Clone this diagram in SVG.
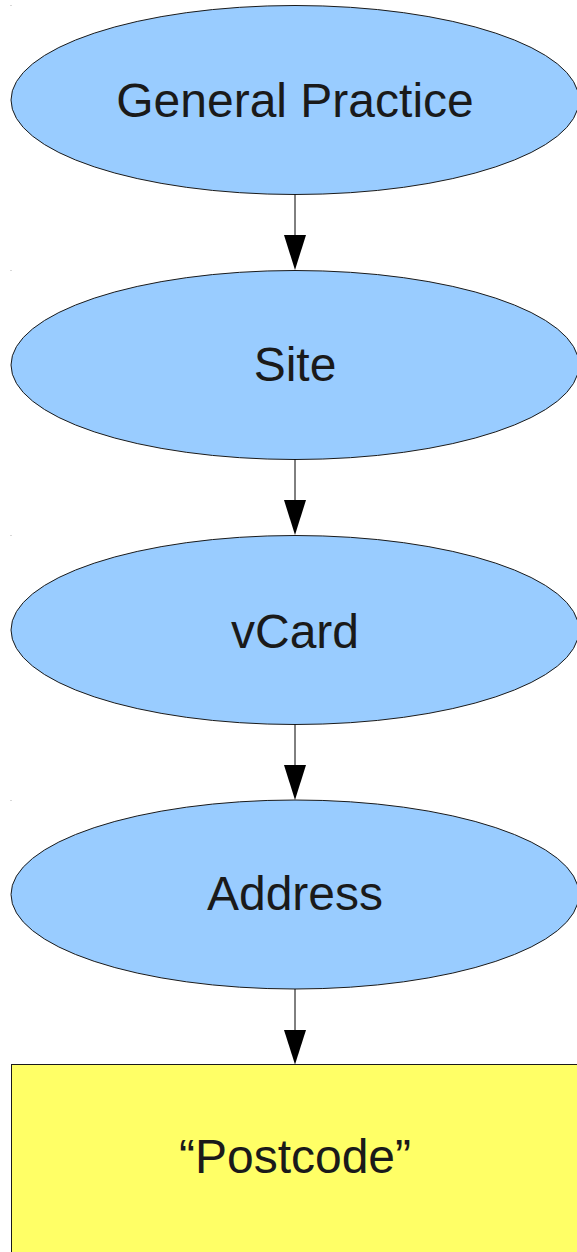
<svg xmlns="http://www.w3.org/2000/svg" width="577" height="1252" viewBox="0 0 577 1252">
<style>
.ell{fill:#99ccff;stroke:#1a1a1a;stroke-width:1}
.box{fill:#ffff66;stroke:#1a1a1a;stroke-width:1}
.lbl{font-family:"Liberation Sans",Arial,sans-serif;font-size:48px;fill:#1a1a1a;text-anchor:middle}
.conn line{stroke:#000;stroke-width:1}
.conn polygon{fill:#000}
.dot{fill:#b0b0b0}
</style>
<rect width="577" height="1252" fill="#ffffff"/>
<rect class="dot" x="10.5" y="5" width="1" height="1"/>
<rect class="dot" x="10.5" y="270" width="1" height="1"/>
<rect class="dot" x="10.5" y="535" width="1" height="1"/>
<rect class="dot" x="10.5" y="800" width="1" height="1"/>
<g id="node-general-practice">
<ellipse class="ell" cx="295" cy="100" rx="284" ry="94.5"/>
<text class="lbl" x="295" y="117">General Practice</text>
</g>
<g id="node-site">
<ellipse class="ell" cx="295" cy="365" rx="284" ry="94.5"/>
<text class="lbl" x="295" y="381">Site</text>
</g>
<g id="node-vcard">
<ellipse class="ell" cx="295" cy="630" rx="284" ry="94.5"/>
<text class="lbl" x="295" y="648">vCard</text>
</g>
<g id="node-address">
<ellipse class="ell" cx="295" cy="894.5" rx="284" ry="94.5"/>
<text class="lbl" x="295" y="910">Address</text>
</g>
<g id="node-postcode">
<rect class="box" x="11.5" y="1064.5" width="600" height="200"/>
<text class="lbl" x="295" y="1173">“Postcode”</text>
</g>
<g id="connectors" class="conn">
<line x1="295" y1="194.5" x2="295" y2="236"/>
<polygon points="284,235 306,235 295,270"/>
<line x1="295" y1="459.5" x2="295" y2="501"/>
<polygon points="284,500 306,500 295,535"/>
<line x1="295" y1="724.5" x2="295" y2="766"/>
<polygon points="284,765 306,765 295,800"/>
<line x1="295" y1="989" x2="295" y2="1031"/>
<polygon points="284,1030 306,1030 295,1064.5"/>
</g>
</svg>
